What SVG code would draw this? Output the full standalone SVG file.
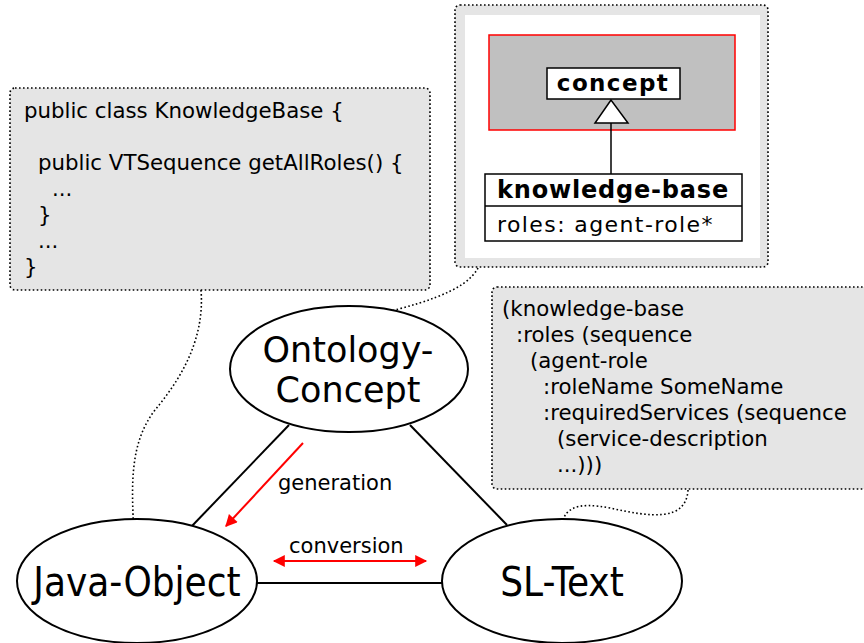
<svg xmlns="http://www.w3.org/2000/svg" width="864" height="643" viewBox="0 0 864 643">
<defs>
<style>
.note{fill:#e5e5e5;stroke:#000;stroke-width:1.6;stroke-dasharray:1.6 2.4}
.dot{fill:none;stroke:#000;stroke-width:1.6;stroke-dasharray:1.6 2.4}
.code{font-family:"DejaVu Sans",sans-serif;font-size:21.3px;fill:#000}
.node{fill:#fff;stroke:#000;stroke-width:2}
.big{font-family:"DejaVu Sans",sans-serif;font-size:35px;fill:#000;text-anchor:middle}
.cond{font-family:"DejaVu Sans Condensed","DejaVu Sans",sans-serif;font-stretch:condensed;font-size:40px;fill:#000;text-anchor:middle}
.edge{stroke:#000;stroke-width:2;fill:none}
.red{stroke:#f00;stroke-width:2;fill:none}
.lbl{font-family:"DejaVu Sans",sans-serif;font-size:21px;fill:#000}
.uml{font-family:"DejaVu Sans",sans-serif;fill:#000}
</style>
<marker id="ah" viewBox="0 0 10 10" refX="9" refY="5" markerWidth="16" markerHeight="12" markerUnits="userSpaceOnUse" orient="auto-start-reverse">
<path d="M0,0 L10,5 L0,10 z" fill="#f00"/>
</marker>
</defs>

<g id="code-note">
<rect class="note" x="10" y="88" width="420" height="202" rx="5"/>
<text class="code" x="24" y="118">public class KnowledgeBase {</text>
<text class="code" x="38" y="170">public VTSequence getAllRoles() {</text>
<text class="code" x="52" y="196">...</text>
<text class="code" x="38" y="222">}</text>
<text class="code" x="38" y="248">...</text>
<text class="code" x="24" y="274">}</text>
</g>

<g id="uml-note">
<rect class="note" x="455" y="5" width="313" height="262" rx="5"/>
<rect x="465" y="15" width="295" height="243" fill="#fff"/>
<rect x="489" y="35" width="246" height="95" fill="#c0c0c0" stroke="#f00" stroke-width="1.5"/>
<rect x="547" y="68" width="133" height="31" fill="#fff" stroke="#000" stroke-width="1.5"/>
<text class="uml" x="613" y="91" font-size="23" font-weight="bold" letter-spacing="1.4" text-anchor="middle">concept</text>
<line x1="611" y1="123" x2="611" y2="175" stroke="#000" stroke-width="1.5"/>
<polygon points="611,100 595,123 628,123" fill="#fff" stroke="#000" stroke-width="1.5"/>
<rect x="485" y="174" width="257" height="67" fill="#fff" stroke="#000" stroke-width="1.5"/>
<line x1="485" y1="206" x2="742" y2="206" stroke="#000" stroke-width="1.5"/>
<text class="uml" x="613" y="198" font-size="24" font-weight="bold" letter-spacing="0.8" text-anchor="middle">knowledge-base</text>
<text class="uml" x="497" y="232" font-size="22" letter-spacing="1.4">roles: agent-role*</text>
</g>

<g id="sl-note">
<rect class="note" x="492" y="287" width="385" height="202" rx="5"/>
<text class="code" x="502" y="316">(knowledge-base</text>
<text class="code" x="516" y="342">:roles (sequence</text>
<text class="code" x="530" y="368">(agent-role</text>
<text class="code" x="543" y="394">:roleName SomeName</text>
<text class="code" x="543" y="420">:requiredServices (sequence</text>
<text class="code" x="557" y="446">(service-description</text>
<text class="code" x="557" y="472">...)))</text>
</g>

<g id="connectors">
<line class="edge" x1="289" y1="425" x2="191" y2="527"/>
<line class="edge" x1="410" y1="425" x2="507" y2="525"/>
<line class="edge" x1="257" y1="583" x2="443" y2="583"/>
<line class="red" x1="303" y1="443" x2="226" y2="526" marker-end="url(#ah)"/>
<line class="red" x1="274" y1="561" x2="426" y2="561" marker-start="url(#ah)" marker-end="url(#ah)"/>
<text class="lbl" x="278" y="490">generation</text>
<text class="lbl" x="289" y="553">conversion</text>
<path class="dot" d="M201,290 C205,340 180,380 155,410 C128,445 132,490 134,537"/>
<path class="dot" d="M478,268 C465,292 420,305 353,320"/>
<path class="dot" d="M688,490 C686,522 650,517 610,508 C578,502 558,505 561,541"/>
</g>

<g id="ontology-concept">
<ellipse class="node" cx="349" cy="369" rx="119" ry="63"/>
<text class="big" x="348" y="362">Ontology-</text>
<text class="big" x="348" y="402">Concept</text>
</g>

<g id="java-object">
<ellipse class="node" cx="137" cy="581" rx="120" ry="62"/>
<text class="cond" x="137" y="596">Java-Object</text>
</g>

<g id="sl-text">
<ellipse class="node" cx="562" cy="581" rx="120" ry="62"/>
<text class="cond" x="562" y="596">SL-Text</text>
</g>
</svg>
